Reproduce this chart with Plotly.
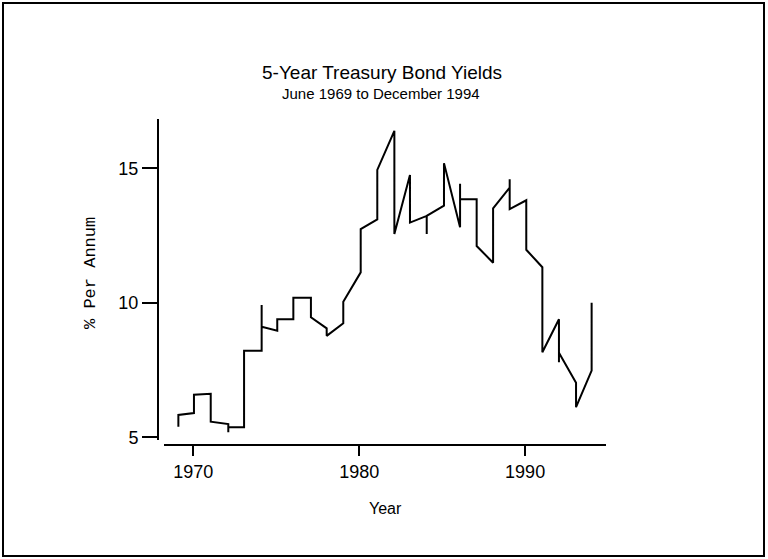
import plotly.graph_objects as go

# Vertices of the yield trace (year, % per annum)
years = [1969.10, 1969.10, 1970.04, 1970.04, 1971.05, 1971.05, 1972.11, 1972.11, 1972.11,
         1973.06, 1973.06, 1974.12, 1974.12, 1974.12, 1975.06, 1975.06, 1976.03, 1976.03,
         1977.09, 1977.09, 1978.04, 1978.04, 1979.04, 1979.04, 1980.09, 1980.09, 1981.09,
         1981.09, 1982.12, 1982.12, 1983.06, 1983.06, 1984.07, 1984.07, 1984.07, 1985.11,
         1985.11, 1986.08, 1986.08, 1986.08, 1987.08, 1987.08, 1988.07, 1988.07, 1989.07,
         1989.07, 1989.07, 1990.07, 1990.07, 1991.04, 1991.04, 1992.04, 1992.04, 1992.04,
         1993.07, 1993.07, 1994.01, 1994.01]
yields = [5.39, 5.83, 5.90, 6.58, 6.62, 5.58, 5.49, 5.19, 5.38,
          5.37, 8.22, 8.22, 9.92, 9.11, 8.96, 9.39, 9.39, 10.19,
          10.19, 9.46, 9.05, 8.77, 9.24, 10.04, 11.13, 12.74, 13.10,
          14.94, 16.39, 12.56, 14.75, 12.98, 13.23, 12.56, 13.23, 13.61,
          15.19, 12.81, 14.42, 13.85, 13.85, 12.11, 11.49, 13.51, 14.28,
          14.59, 13.48, 13.81, 11.97, 11.32, 8.16, 9.39, 7.79, 8.14,
          7.03, 6.12, 7.48, 10.00]

x_ticks = [1970, 1980, 1990]
y_ticks = [5, 10, 15]
title_text = "5-Year Treasury Bond Yields"
subtitle_text = "June 1969 to December 1994"
x_title = "Year"
y_title = "% Per Annum"

SANS = "Liberation Sans, Arial, Helvetica, sans-serif"
MONO = "Liberation Mono, Courier New, monospace"

fig = go.Figure()
fig.add_trace(go.Scatter(x=years, y=yields, mode="lines",
                         line=dict(color="black", width=2),
                         showlegend=False, hoverinfo="skip"))

W, H = 768, 559
L, R, T, B = 158, 162, 119, 114
pw, ph = W - L - R, H - T - B

def px(xp):
    return (xp - L) / pw

def py(yp):
    return (H - B - yp) / ph

fig.update_layout(
    width=W, height=H,
    margin=dict(l=L, r=R, t=T, b=B),
    paper_bgcolor="white", plot_bgcolor="white",
    font=dict(family=SANS, color="black"),
    xaxis=dict(range=[1968.234, 1994.876], domain=[6 / pw, 1], anchor="free", position=0,
               showline=True, linecolor="black", linewidth=2,
               ticks="outside", ticklen=10, tickwidth=2, tickcolor="black",
               tickvals=x_ticks, ticktext=[str(v) for v in x_ticks],
               showgrid=False, zeroline=False,
               tickfont=dict(family=SANS, size=18, color="black")),
    yaxis=dict(range=[4.90, 16.83], domain=[5 / ph, 1], anchor="free", position=0,
               showline=True, linecolor="black", linewidth=2,
               ticks="outside", ticklen=15, tickwidth=2, tickcolor="black",
               tickvals=y_ticks, ticktext=[str(v) for v in y_ticks],
               showgrid=False, zeroline=False,
               tickfont=dict(family=SANS, size=18, color="black")),
    annotations=[
        dict(text=title_text, x=px(382), y=py(73), xref="paper", yref="paper",
             showarrow=False, xanchor="center", yanchor="middle",
             font=dict(family=SANS, size=19, color="black")),
        dict(text=subtitle_text, x=px(381), y=py(93), xref="paper", yref="paper",
             showarrow=False, xanchor="center", yanchor="middle",
             font=dict(family=SANS, size=15, color="black")),
        dict(text=x_title, x=px(385), y=py(508), xref="paper", yref="paper",
             showarrow=False, xanchor="center", yanchor="middle",
             font=dict(family=SANS, size=16, color="black")),
        dict(text=y_title, x=px(90), y=py(273), xref="paper", yref="paper",
             showarrow=False, xanchor="center", yanchor="middle", textangle=-90,
             font=dict(family=MONO, size=17, color="black")),
    ],
    shapes=[
        dict(type="rect", xref="paper", yref="paper",
             x0=px(3), x1=px(764), y0=py(556), y1=py(3),
             line=dict(color="black", width=2)),
    ],
)

fig.write_html("out.html", config={"displayModeBar": False},
               post_script="document.body.style.margin='0';document.body.style.padding='0';")
